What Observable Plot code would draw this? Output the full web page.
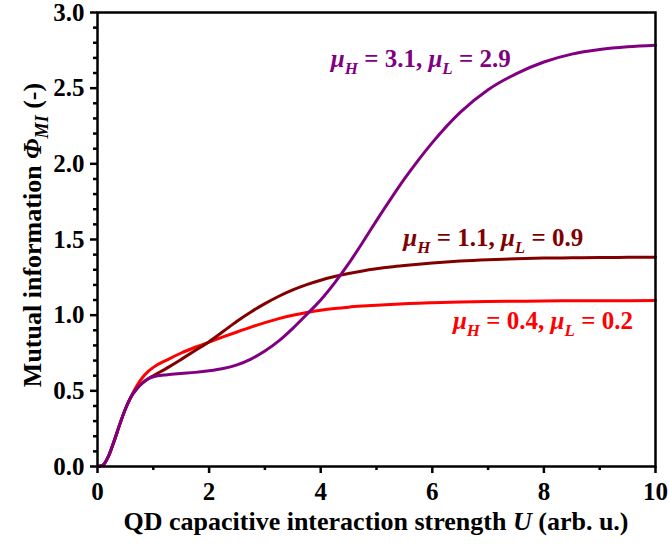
<!DOCTYPE html>
<html>
<head>
<meta charset="utf-8">
<script src="https://cdn.jsdelivr.net/npm/d3@7"></script>
<script src="https://cdn.jsdelivr.net/npm/@observablehq/plot@0.6"></script>
<style>
  html, body { margin: 0; padding: 0; background: #fff; }
  #chart { width: 669px; height: 545px; }
  #chart svg text { font-family: "Liberation Serif", "Times New Roman", serif; font-weight: bold; }
</style>
</head>
<body>
<div id="chart"></div>
<script>
// Interaction strength U (x)
const U = [0, 0.1, 0.2, 0.3, 0.4, 0.5, 0.6, 0.7, 0.8, 0.9, 1.0, 1.25, 1.5, 1.75, 2.0, 2.25, 2.5, 2.75, 3.0, 3.25, 3.5, 3.75, 4.0, 4.25, 4.5, 4.75, 5.0, 5.25, 5.5, 5.75, 6.0, 6.5, 7.0, 7.5, 8.0, 8.5, 9.0, 9.5, 10];
// mu_H = 0.4, mu_L = 0.2 (red)
const redVals = [0, 0.01, 0.07, 0.17, 0.28, 0.38, 0.46, 0.53, 0.585, 0.625, 0.655, 0.705, 0.75, 0.788, 0.822, 0.856, 0.889, 0.921, 0.951, 0.977, 0.999, 1.017, 1.032, 1.044, 1.053, 1.06, 1.066, 1.071, 1.075, 1.079, 1.082, 1.087, 1.09, 1.092, 1.094, 1.095, 1.096, 1.096, 1.097];
// mu_H = 1.1, mu_L = 0.9 (dark red)
const darkVals = [0, 0.01, 0.07, 0.17, 0.28, 0.38, 0.46, 0.51, 0.55, 0.578, 0.6, 0.652, 0.708, 0.766, 0.825, 0.892, 0.96, 1.021, 1.076, 1.125, 1.167, 1.202, 1.231, 1.255, 1.275, 1.292, 1.306, 1.318, 1.328, 1.337, 1.345, 1.358, 1.367, 1.373, 1.377, 1.379, 1.381, 1.382, 1.383];
// mu_H = 3.1, mu_L = 2.9 (purple)
const purpleVals = [0, 0.01, 0.07, 0.17, 0.28, 0.38, 0.46, 0.515, 0.55, 0.577, 0.593, 0.607, 0.615, 0.622, 0.632, 0.647, 0.672, 0.71, 0.763, 0.83, 0.913, 1.005, 1.10, 1.213, 1.34, 1.48, 1.625, 1.765, 1.90, 2.025, 2.14, 2.34, 2.49, 2.595, 2.673, 2.725, 2.755, 2.773, 2.783];

const seriesNames = ["red", "dark", "purple"];
const seriesColors = ["#ff0000", "#800000", "#800080"];
const seriesValues = [redVals, darkVals, purpleVals];

// Curve labels
const labelU = [6.37, 5.48, 4.18];
const labelV = [0.963, 1.511, 2.692];
const labelH = ["0.4", "1.1", "3.1"];
const labelL = ["0.2", "0.9", "2.9"];

const xMajor = [0, 2, 4, 6, 8, 10];
const xMinor = [1, 3, 5, 7, 9];
const yMajor = [0, 0.5, 1.0, 1.5, 2.0, 2.5, 3.0];
const yMinor = [0.1, 0.2, 0.3, 0.4, 0.6, 0.7, 0.8, 0.9, 1.1, 1.2, 1.3, 1.4, 1.6, 1.7, 1.8, 1.9, 2.1, 2.2, 2.3, 2.4, 2.6, 2.7, 2.8, 2.9];

const rows = [];
seriesNames.forEach((s, i) => U.forEach((u, j) => rows.push({series: s, U: u, v: seriesValues[i][j], color: seriesColors[i]})));
const labels = seriesNames.map((s, i) => ({series: s, U: labelU[i], v: labelV[i], color: seriesColors[i], h: labelH[i], l: labelL[i]}));

const font = "Liberation Serif, Times New Roman, serif";

const chart = Plot.plot({
  width: 669,
  height: 545,
  marginLeft: 97,
  marginRight: 14,
  marginTop: 12,
  marginBottom: 79,
  style: {fontFamily: font, fontWeight: "bold", fontSize: "25px", background: "#fff", color: "#000"},
  x: {domain: [0, 10]},
  y: {domain: [0, 3]},
  color: {type: "identity"},
  marks: [
    Plot.axisX({ticks: xMinor, tickSize: 4, strokeWidth: 2.5, text: null, label: null}),
    Plot.axisX({ticks: xMajor, tickSize: 7, strokeWidth: 2.5, tickPadding: 9, label: null, tickFormat: d => String(d)}),
    Plot.axisY({ticks: yMinor, tickSize: 4, strokeWidth: 2.5, text: null, label: null}),
    Plot.axisY({ticks: yMajor, tickSize: 7, strokeWidth: 2.5, tickPadding: 6, label: null, tickFormat: d3.format(".1f")}),
    Plot.line(rows, {x: "U", y: "v", z: "series", stroke: "color", strokeWidth: 3, curve: "monotone-x"}),
    Plot.frame({stroke: "#000", strokeWidth: 2.5}),
    Plot.text(labels, {x: "U", y: "v", text: d => `μH = ${d.h}, μL = ${d.l}`, fill: "color", textAnchor: "start", fontSize: 25, fontWeight: "bold", className: "curve-label"})
  ]
});

document.getElementById("chart").appendChild(chart);

const svg = d3.select(chart);
// rich-text curve labels
svg.selectAll(".curve-label text").each(function(d, i) {
  const t = d3.select(this);
  const lab = labels[i];
  t.text(null);
  t.append("tspan").attr("font-style", "italic").text("μ");
  t.append("tspan").attr("font-style", "italic").attr("font-size", 17).attr("dy", 7).text("H");
  t.append("tspan").attr("dy", -7).text(` = ${lab.h}, `);
  t.append("tspan").attr("font-style", "italic").text("μ");
  t.append("tspan").attr("font-style", "italic").attr("font-size", 17).attr("dy", 7).text("L");
  t.append("tspan").attr("dy", -7).text(` = ${lab.l}`);
});

// x-axis title
const xt = svg.append("text")
  .attr("x", 376).attr("y", 530)
  .attr("text-anchor", "middle")
  .attr("font-size", 26);
xt.append("tspan").text("QD capacitive interaction strength ");
xt.append("tspan").attr("font-style", "italic").text("U");
xt.append("tspan").text(" (arb. u.)");

// y-axis title
const yt = svg.append("text")
  .attr("transform", "translate(41,235) rotate(-90)")
  .attr("text-anchor", "middle")
  .attr("font-size", 26);
yt.append("tspan").text("Mutual information ");
yt.append("tspan").attr("font-style", "italic").text("Φ");
yt.append("tspan").attr("font-style", "italic").attr("font-size", 18).attr("dy", 7).text("MI");
yt.append("tspan").attr("dy", -7).text(" (-)");
</script>
</body>
</html>
